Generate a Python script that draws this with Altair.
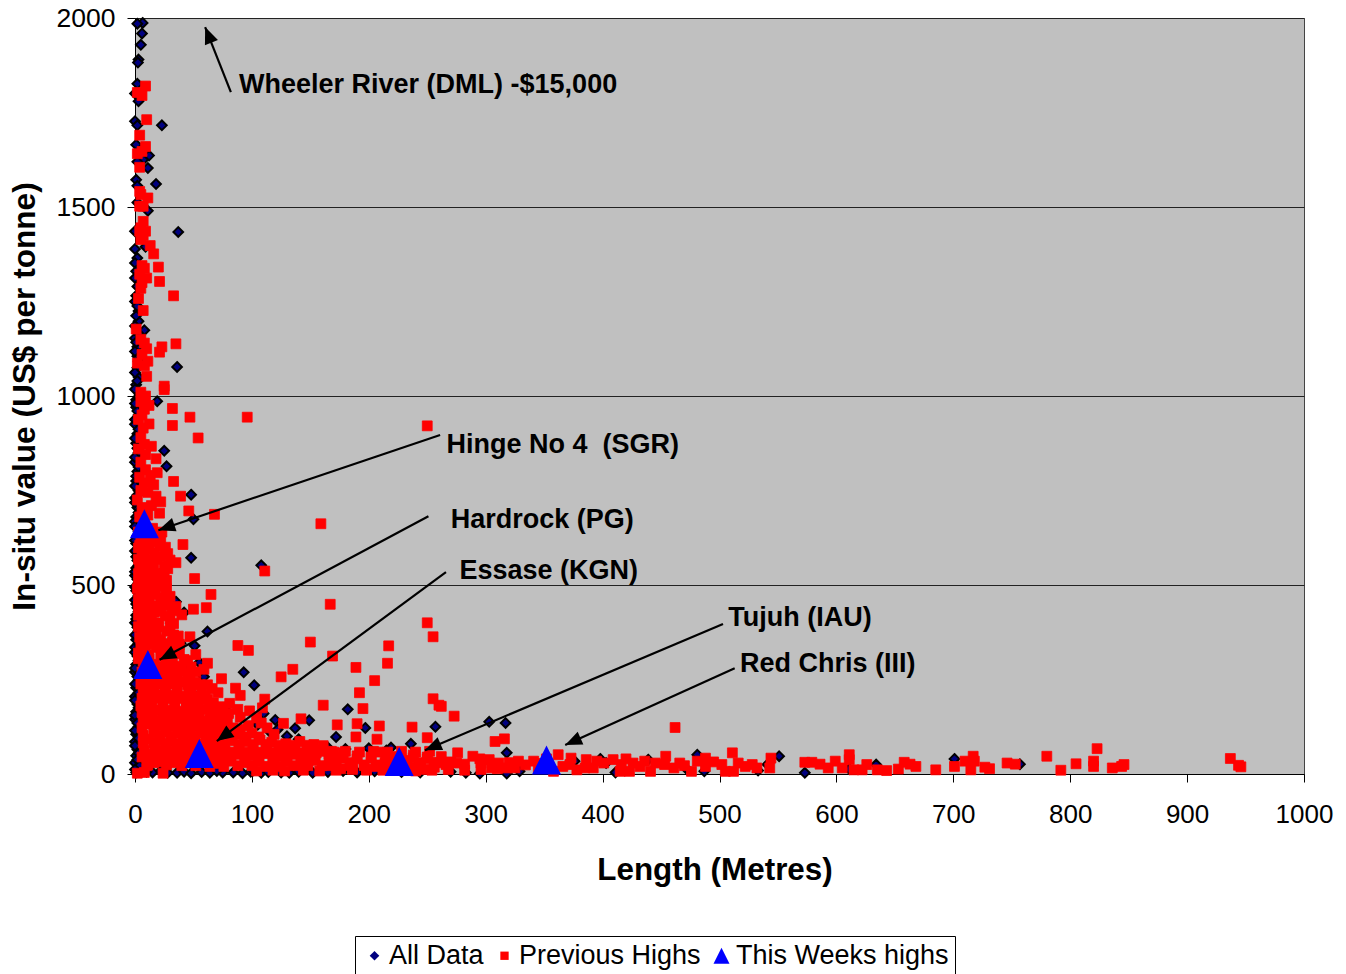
import altair as alt
import pandas as pd

# ---------- values (length m, value $/t) ----------
black_upper = [(6.5,1987),(2,1985),(6,1959),(5,1929),(3,1890),(2.5,1882),(2,1826),(0,1800),(3,1780),(0,1727),(2,1716),(23,1716),
 (1,1665),(12,1636),(7,1625),(2,1620),(11,1603),(1,1572),(18,1561),(2,1556),(2,1512),(11,1490),(37,1434),(0,1436),(0,1389),
 (9,1395),(2,1365),(0,1352),(1,1330),(0,1312),(2,1290),(0,1250),(3,1225),(3,1198),(8,1174),(0,1153),(2,1130),(2,1105),(36,1077),
 (2,1075),(3,1050),(1,1030),(4,1005),(19,986),(1,990),(25,855),(27,814),(1,970),(3,950),(0,925),(2,900),(1,875),(3,850),(0,825),
 (2,800),(1,775),(3,750),(0,730),(2,705),(1,680),(48,739),(50,674),(48,572),(108,552),(35,456),(42,427),(62,377),(39,346),(51,339),
 (47,286),(55,295),(59,257),(93,269),(102,235),(1,1265),(2,1238),(1,1212),(0,1185),(3,1165),(1,1142),(0,1118),(3,1092),(0,1062),(2,1040),
 (0,1018),(3,998),(0,980),(2,960),(0,938),(3,912),(0,888),(2,862),(0,838),(3,812),(1,788),(0,762),(2,738),(0,718),(3,692),(0,668)]
black_axis = [(0,655),(2,630),(1,610),(0,590),(2,565),(1,545),(0,525),(3,505),(1,485),(0,460),(2,440),(1,420),(0,400),(3,378),(1,355),
 (0,335),(2,312),(1,290),(0,270),(3,248),(1,228),(0,205),(2,185),(1,165),(0,145),(3,125),(1,105),(0,85),(2,65),(1,48),(0,30),(3,14),(1,4),
 (3,642),(0,618),(3,598),(1,575),(3,552),(0,535),(2,515),(0,495),(3,472),(1,450),(3,430),(1,410),(2,388),(0,368),(3,345),(0,322),(3,300),
 (0,280),(2,258),(0,238),(3,215),(0,195),(3,175),(0,155),(2,135),(0,115),(3,95),(0,75),(3,55),(2,38),(4,22),(0,12)]
black_low = [(182,171),(149,142),(137,121),(120,143),(110,160),(79,152),(77,171),(197,122),(172,98),(257,125),(236,80),(219,70),(130,100),
 (122,118),(91,105),(15,4),(22,8),(36,3),(42,6),(48,2),(57,5),(64,3),(75,4),(92,2),(99,6),(108,3),(114,5),(125,4),(140,6),(152,3),(165,5),
 (178,8),(190,4),(205,7),(228,5),(244,4),(270,6),(283,3),(303,138),(317,135),(318,56),(295,1),(318,1),(329,7),(376,34),(398,40),(403,29),
 (411,4),(439,38),(471,16),(481,51),(487,7),(533,9),(541,25),(551,47),(573,3),(611,13),(634,25),(701,40),(757,26),
 (50,210),(57,200),(66,160),(105,130),(116,110),(140,92),(165,70),(180,66),(200,68),(215,62),(10,6),(28,3),(70,8),(84,4),(101,9),(132,3)]

red_upper = [(9,1820),(2,1803),(6,1795),(10,1731),(4,1690),(9,1660),(2,1641),(6,1647),(4,1605),(4,1541),(5,1533),(11,1524),(4,1502),(7,1502),
 (7,1462),(5,1445),(4,1436),(9,1436),(7,1425),(5,1414),(13,1398),(16,1376),(20,1341),(21,1303),(6,1345),(8,1338),(4,1322),(10,1312),(6,1300),
 (5,1285),(33,1265),(3,1258),(7,1226),(1,1177),(35,1138),(23,1130),(21,1116),(5,1150),(8,1140),(10,1125),(6,1110),(11,1092),(2,1087),(8,1080),
 (10,1052),(25,1026),(25,1017),(5,1010),(9,1000),(5,985),(12,975),(8,965),(32,967),(6,950),(47,944),(96,944),(32,922),(12,926),(3,938),(7,915),
 (54,889),(5,890),(8,872),(14,867),(3,860),(9,845),(18,834),(5,825),(9,805),(19,797),(13,790),(4,785),(8,770),(16,765),(33,774),(39,735),(5,750),
 (11,745),(18,735),(2,725),(68,687),(46,696),(22,720),(14,710),(6,705),(21,690),(11,685),(4,680),(250,921)]
red_mid = [(159,662),(41,607),(7,655),(15,650),(23,640),(8,620),(18,615),(26,600),(3,598),(12,595),(35,559),(22,575),(6,575),(14,562),(25,550),
 (4,552),(11,540),(20,530),(111,537),(7,525),(16,518),(27,512),(51,517),(3,505),(12,498),(23,495),(65,475),(8,482),(17,475),(30,470),(3,462),
 (12,455),(22,450),(167,449),(61,440),(50,436),(7,438),(32,432),(40,421),(16,428),(26,418),(3,420),(11,408),(20,400),(33,398),(250,400),(255,363),
 (6,385),(15,382),(27,378),(37,365),(4,362),(47,363),(12,360),(22,355),(32,350),(150,349),(88,340),(217,339),(8,338),(18,335),(28,330),(97,327),
 (3,320),(12,315),(38,318),(52,316),(22,312),(169,312),(32,305),(7,298),(45,300),(62,293),(216,293),(16,290),(27,285),(40,280),(189,282),(135,277),
 (59,277),(6,270),(18,268),(30,265),(45,264),(125,257),(74,252),(205,247)]
red_mid_extra = [(3,640),(11,640),(19,638),(5,625),(14,625),(22,622),(4,605),(10,605),(21,603),(8,585),(17,585),(28,583),(3,568),(10,568),(18,568),(30,566),
 (7,545),(16,545),(28,543),(3,530),(12,530),(25,530),(6,510),(11,510),(20,510),(2,490),(8,490),(17,490),(27,490),(5,470),(12,470),(24,468),(3,445),(12,445),
 (18,445),(28,445),(35,443),(8,430),(22,430),(6,410),(14,410),(30,410),(3,390),(11,390),(20,390),(30,388),(8,370),(18,370),(33,368),(5,345),(14,345),(26,345),
 (38,343),(9,325),(24,325),(33,325),(3,305),(12,305),(27,305),(42,303),(8,285),(22,285),(34,285),(48,283),(12,272),(25,272),(38,272),(52,270)]
red_cluster = [(10,250),(20,248),(31,246),(42,244),(52,243),(62,236),(8,232),(16,230),(26,228),(36,226),(48,224),(66,226),(86,227),(192,215),(71,215),
 (90,208),(111,198),(255,199),(260,182),(161,182),(11,212),(21,210),(31,208),(41,206),(51,204),(60,208),(62,198),(195,173),(81,187),(98,167),(109,175),
 (88,171),(14,192),(24,190),(34,188),(44,186),(54,184),(67,188),(75,178),(59,171),(10,172),(19,170),(29,168),(39,166),(49,164),(68,165),(80,160),(142,146),
 (14,152),(24,150),(34,148),(44,146),(54,150),(64,144),(74,146),(90,150),(104,148),(173,130),(190,133),(209,127),(237,124),(127,134),(108,135),(113,122),
 (97,128),(12,132),(22,130),(32,128),(42,126),(52,128),(62,125),(72,124),(84,122),(16,112),(26,110),(36,108),(46,106),(56,108),(66,104),(76,106),(88,105),
 (100,108),(119,105),(250,96),(189,98),(207,92),(12,92),(21,90),(31,88),(41,86),(51,88),(61,85),(71,84),(83,88),(95,86),(107,90),(117,84),(129,80),
 (141,86),(153,78),(17,72),(27,70),(37,68),(47,66),(57,68),(67,65),(77,62),(89,70),(101,66),(113,70),(125,64),(137,72),(149,62),(161,75),(16,52),(26,50),
 (36,48),(46,46),(56,50),(66,46),(76,44),(88,52),(100,48),(112,54),(124,46),(136,52),(148,44),(160,60),(22,32),(32,30),(16,30),(58,30),(70,28),(82,34),
 (94,30),(106,34),(118,28),(130,34),(142,26),(154,36),(2,2),(8,4),(24,2),(6,45),(10,22)]
red_cluster_extra = [(6,258),(15,258),(25,258),(36,256),(47,256),(5,238),(13,238),(23,238),(34,238),(45,236),(56,236),(7,218),(16,218),(26,218),(36,218),(46,216),(57,216),
 (6,200),(16,200),(26,200),(36,200),(46,198),(56,198),(5,180),(14,180),(24,180),(34,180),(44,178),(52,178),(64,178),(6,162),(15,162),(25,162),(35,160),(45,160),(55,160),(65,158),(74,158),
 (7,142),(17,142),(27,142),(37,140),(47,140),(58,140),(68,138),(79,138),(6,122),(17,122),(27,122),(37,120),(47,120),(57,120),(67,118),(78,118),(90,118),
 (7,102),(21,102),(31,100),(41,100),(51,100),(61,100),(71,98),(82,98),(94,98),(106,98),(7,82),(16,82),(26,82),(36,80),(46,80),(56,80),(66,78),(76,78),(89,78),(101,78),(112,78),(123,76),(135,76),(147,76),
 (8,62),(22,62),(32,60),(42,60),(52,60),(62,58),(72,58),(83,58),(95,58),(107,58),(119,56),(131,56),(143,56),(155,56),(170,58),(11,42),(21,42),(31,40),(41,40),(51,40),(61,38),(71,38),(82,40),
 (94,40),(106,40),(118,38),(130,38),(142,38),(154,40),(166,40),(178,42),(190,40),(11,24),(27,24),(40,22),(52,22),(64,20),(76,20),(88,22),(100,22),(112,20),(124,20),(136,22),(148,22),(160,22),
 (172,24),(184,22),(196,22),(208,24),(220,24),(104,8),(118,10),(128,8),(144,10),(158,8),(172,10)]
red_strip = [(166,52),(172,36),(178,56),(184,30),(190,48),(196,24),(202,42),(208,58),(214,28),(220,46),(226,20),(232,36),(238,50),(244,24),(250,40),(256,18),
 (262,46),(166,22),(176,14),(186,16),(198,12),(206,20),(216,14),(224,35),(236,18),(248,12),(258,30),(262,179),(273,153),(308,86),(316,93),(462,123),
 (266,25),(276,56),(275,29),(289,47),(296,29),(303,38),(305,16),(311,29),(318,16),(328,34),(325,16),(341,34),(345,16),(358,7),(362,51),(373,42),(372,25),
 (386,38),(385,16),(378,11),(392,16),(401,29),(409,38),(416,25),(415,7),(423,7),(426,29),(432,20),(445,29),(441,7),(454,47),(453,25),(461,16),(466,29),
 (476,7),(481,34),(488,42),(488,20),(502,25),(505,7),(512,7),(511,56),(516,29),(528,25),(532,16),(544,42),(543,16),(573,31),(579,31),(586,26),(593,16),
 (599,34),(605,16),(611,51),(611,38),(615,11),(622,11),(626,25),(635,11),(643,9),(653,13),(658,31),(663,26),(668,20),(685,11),(701,20),(710,34),(717,47),
 (718,34),(715,11),(727,18),(731,14),(746,29),(753,26),(780,47),(792,10),(805,27),(820,34),(820,20),(823,67),(836,16),(844,20),(846,25),(937,41),(944,23),(946,19)]
red_strip_extra = [(168,60),(180,60),(192,58),(204,60),(216,58),(228,60),(240,58),(252,60),(202,45),(214,45),(226,45),(238,43),(250,45),(232,30),(244,30),(256,30),(270,32),(186,12),(198,10),
 (212,10),(228,12),(240,8),(254,10),(268,12),(282,10),(296,12),(282,26),(295,40),(310,14),(320,30),(334,24),(348,28),(352,40),(366,20),(395,34),(420,40),(436,34),(470,22),(495,32),(522,20)]

weeks_highs = [(8,662),(11,290),(55,54),(226,33),(352,37)]

label_names = ["Wheeler River (DML) -$15,000","Hinge No 4 \u00a0(SGR)","Hardrock (PG)","Essase (KGN)","Tujuh (IAU)","Red Chris (III)"]
label_x = [89,266.5,270,277.5,507.5,517.5]
label_y = [1822,870,672,537,412,291]
arrow_x = [82,261,251,266,503,513]
arrow_y = [1804,897,682,534,397,280]
tip_x = [60,20,21,70,248,368]
tip_y = [1976,645,302,87,63,77]
tip_angle = [338,251,242,234,247,246]

series_names = ["All Data","Previous Highs","This Weeks highs"]
FONT = "Liberation Sans"

# ---------- tables ----------
def frame(points, name):
    return pd.DataFrame({"x":[p[0] for p in points],"y":[p[1] for p in points],"series":name})

black = frame(black_upper+black_axis+black_low, series_names[0])
red = frame(red_upper+red_mid+red_mid_extra+red_cluster+red_cluster_extra+red_strip+red_strip_extra, series_names[1])
blue = frame(weeks_highs, series_names[2])
ann = pd.DataFrame({"label":label_names,"lx":label_x,"ly":label_y,"ax":arrow_x,"ay":arrow_y,"tx":tip_x,"ty":tip_y,"angle":tip_angle})

# ---------- scales ----------
xs = alt.Scale(domain=[0,1000],nice=False,zero=False)
ys = alt.Scale(domain=[0,2000],nice=False,zero=False)
DIAMOND = "M0,-0.6L0.6,0L0,0.6L-0.6,0Z"
SQUARE = "M-0.52,-0.52L0.52,-0.52L0.52,0.52L-0.52,0.52Z"
TRIANGLE = "M0,-1L1,1L-1,1Z"
shape_scale = alt.Scale(domain=series_names,range=[DIAMOND,SQUARE,TRIANGLE])
fill_scale = alt.Scale(domain=series_names,range=["#000080","#ff0000","#0000ff"])

legend = alt.Legend(title=None,orient="none",legendX=220,legendY=918,direction="horizontal",
    symbolSize=256,labelFontSize=27,labelFont=FONT,labelColor="black",strokeColor="black",
    fillColor="white",padding=6,columnPadding=7,symbolStrokeWidth=0,labelOffset=1,
    symbolType="circle",labelLimit=400)

def points(df,size,stroke,sw):
    return alt.Chart(df).mark_point(filled=True,size=size,opacity=1,stroke=stroke,strokeWidth=sw,clip=False).encode(
        x=alt.X("x:Q",scale=xs,
            axis=alt.Axis(values=list(range(0,1001,100)),title="Length (Metres)",grid=False,format="d",labelFont=FONT,labelFontSize=26,
                labelColor="black",titleFont=FONT,titleFontSize=31.4,titleFontWeight="bold",titleColor="black",tickColor="black",domainColor="black",
                tickSize=8,labelPadding=19,titlePadding=27,titleX=579.5,labelFlush=False,labelOverlap=False)),
        y=alt.Y("y:Q",scale=ys,
            axis=alt.Axis(values=[0,500,1000,1500,2000],title="In-situ value (US$ per tonne)",grid=True,gridColor="#222222",gridWidth=1,format="d",
                labelFont=FONT,labelFontSize=26.5,labelColor="black",titleFont=FONT,titleFontSize=31.6,titleFontWeight="bold",titleColor="black",
                tickColor="black",domainColor="black",tickSize=8,labelPadding=12,titlePadding=15,labelFlush=False,labelOverlap=False)),
        shape=alt.Shape("series:N",scale=shape_scale,legend=legend),
        fill=alt.Fill("series:N",scale=fill_scale,legend=legend),
    )

black_layer = points(black,260,"black",2)
red_layer = points(red,360,"#ff0000",0.8)
blue_layer = points(blue,841,"#0000ff",0)

rules = alt.Chart(ann).mark_rule(color="black",strokeWidth=2.2).encode(
    x=alt.X("ax:Q",scale=xs),y=alt.Y("ay:Q",scale=ys),x2="tx:Q",y2="ty:Q")
heads = alt.Chart(ann).mark_point(filled=True,fill="black",stroke="black",strokeWidth=0,opacity=1,size=196,shape="M0,0L-1,2.4L1,2.4Z").encode(
    x=alt.X("tx:Q",scale=xs),y=alt.Y("ty:Q",scale=ys),angle=alt.Angle("angle:Q",scale=None))
texts = alt.Chart(ann).mark_text(align="left",baseline="middle",font=FONT,fontSize=27,fontWeight="bold",color="black").encode(
    x=alt.X("lx:Q",scale=xs),y=alt.Y("ly:Q",scale=ys),text="label:N")

chart = alt.layer(black_layer,red_layer,blue_layer,rules,heads,texts).resolve_scale(shape="shared",fill="shared").properties(
    width=1169,height=756,background="white",
    padding={"left":127,"top":10,"right":34,"bottom":200},
    autosize=alt.AutoSizeParams(type="none"),
).configure_view(fill="#c0c0c0",stroke="#444444",strokeWidth=1)

chart.save("out.html",embed_options={"renderer":"svg","actions":False})
